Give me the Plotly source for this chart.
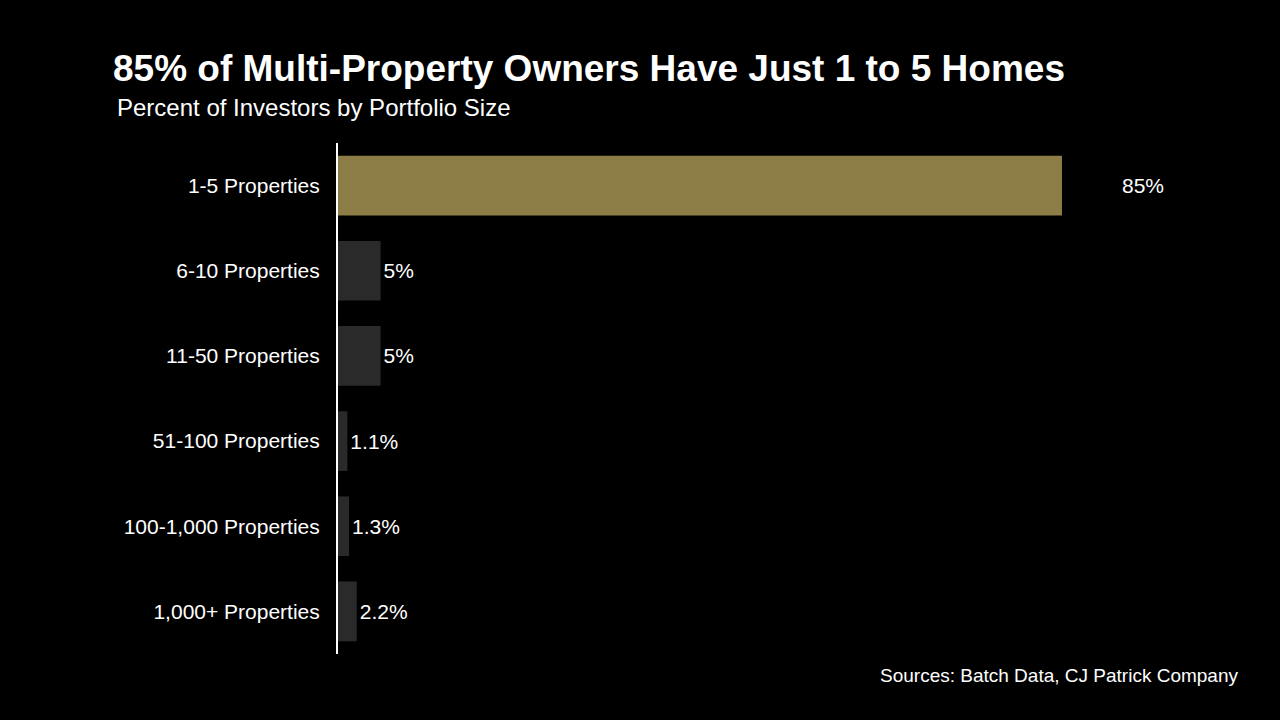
import plotly.graph_objects as go

categories = ["1-5 Properties", "6-10 Properties", "11-50 Properties",
              "51-100 Properties", "100-1,000 Properties", "1,000+ Properties"]
values = [85, 5, 5, 1.1, 1.3, 2.2]
labels = ["85%", "5%", "5%", "1.1%", "1.3%", "2.2%"]
colors = ["#8B7D45", "#2A2A2A", "#2A2A2A", "#2A2A2A", "#2A2A2A", "#2A2A2A"]

FONT = "Liberation Sans, Arial, sans-serif"

fig = go.Figure()
fig.add_trace(go.Bar(
    y=categories, x=values, orientation="h",
    marker=dict(color=colors, line=dict(width=0)),
    width=0.7,
    text=[""] + labels[1:], textposition="outside",
    textfont=dict(color="white", size=21, family=FONT),
    cliponaxis=False,
))

fig.add_annotation(x=values[0], y=categories[0], text=labels[0],
                   xanchor="left", xshift=58, showarrow=False,
                   font=dict(color="white", size=21, family=FONT))

fig.update_layout(
    width=1280, height=720,
    paper_bgcolor="black", plot_bgcolor="black",
    margin=dict(l=338, r=40, t=143, b=66),
    showlegend=False,
    title=dict(text="<b>85% of Multi-Property Owners Have Just 1 to 5 Homes</b>",
               x=113/1280, xanchor="left", y=1-68/720, yanchor="middle",
               font=dict(color="white", size=37, family=FONT)),
    font=dict(family=FONT, color="white"),
)
fig.add_annotation(text="Percent of Investors by Portfolio Size", xref="paper", yref="paper",
                   x=-(338-115)/902, y=1+(143-108)/511, xanchor="left", yanchor="middle",
                   showarrow=False, font=dict(color="white", size=24, family=FONT))
fig.add_annotation(text="Sources: Batch Data, CJ Patrick Company", xref="paper", yref="paper",
                   x=1, y=-(675-654)/511, xanchor="right", yanchor="middle",
                   showarrow=False, font=dict(color="white", size=19, family=FONT))

fig.update_xaxes(range=[0, 105.9], visible=False, showgrid=False, zeroline=False)
fig.update_yaxes(autorange="reversed", showgrid=False, zeroline=False,
                 showline=True, linecolor="white", linewidth=2,
                 ticks="outside", ticklen=12, tickcolor="black",
                 tickfont=dict(color="white", size=21, family=FONT))

fig.write_html("out.html", config={"displayModeBar": False},
               post_script="document.body.style.margin='0';document.body.style.background='black';")
